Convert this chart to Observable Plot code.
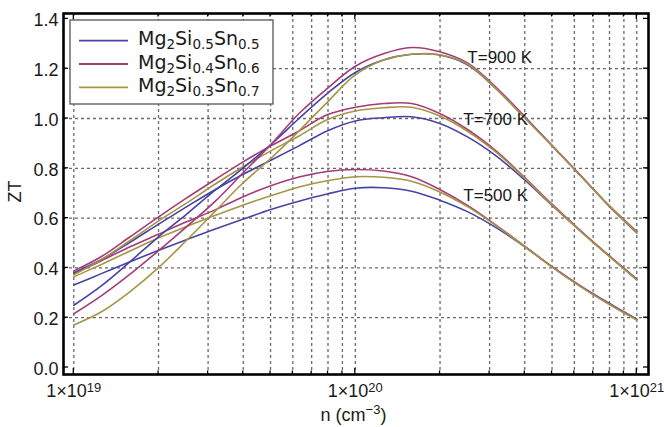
<!DOCTYPE html>
<html><head><meta charset="utf-8">
<script src="https://cdn.jsdelivr.net/npm/d3@7"></script>
<script src="https://cdn.jsdelivr.net/npm/@observablehq/plot@0.6"></script>
<style>body{margin:0;background:#fff}#chart{width:664px;height:427px}</style>
</head><body><div id="chart"></div>
<script>
// ---- data ----
const log10n = [19.0,19.1,19.2,19.3,19.4,19.5,19.6,19.7,19.8,19.9,20.0,20.1,20.2,20.3,20.4,20.5,20.6,20.7,20.8,20.9,21.0];
const siFrac = ["0.5","0.4","0.3"];
const snFrac = ["0.5","0.6","0.7"];
const compKeys = ["Mg2Si0.5Sn0.5","Mg2Si0.4Sn0.6","Mg2Si0.3Sn0.7"];
const compColors = ["#4644a4","#a43c78","#a59645"];
const temps = [500, 700, 900];

const zt500_si05 = [.331,.378,.425,.47,.513,.555,.595,.635,.668,.697,.72,.722,.708,.672,.625,.562,.487,.404,.328,.259,.194];
const zt500_si04 = [.376,.43,.485,.535,.585,.632,.685,.73,.765,.787,.795,.789,.766,.715,.65,.572,.488,.404,.326,.256,.192];
const zt500_si03 = [.364,.415,.468,.52,.566,.61,.652,.69,.725,.75,.766,.764,.748,.705,.645,.57,.487,.402,.325,.255,.191];

const zt700_si05 = [.381,.435,.503,.575,.645,.713,.775,.832,.89,.95,.99,1.003,1.007,.98,.925,.85,.755,.65,.548,.45,.355];
const zt700_si04 = [.388,.447,.525,.604,.68,.753,.825,.89,.95,1.015,1.045,1.06,1.06,1.02,.955,.87,.765,.655,.55,.45,.352];
const zt700_si03 = [.372,.435,.51,.588,.66,.735,.805,.87,.93,.995,1.03,1.043,1.045,1.01,.948,.865,.762,.652,.548,.448,.352];

const zt900_si05 = [.25,.33,.425,.524,.615,.71,.80,.895,1.0,1.10,1.185,1.235,1.258,1.255,1.215,1.12,1.005,.89,.772,.652,.546];
const zt900_si04 = [.216,.29,.375,.468,.565,.665,.78,.895,1.02,1.12,1.21,1.26,1.285,1.268,1.222,1.125,1.01,.89,.77,.65,.54];
const zt900_si03 = [.171,.225,.305,.40,.51,.625,.74,.84,.95,1.065,1.175,1.235,1.258,1.256,1.218,1.12,1.005,.89,.77,.652,.543];

const tempLabels = ["T=900 K","T=700 K","T=500 K"];
const tempLabelN = [2.5e20, 2.42e20, 2.42e20];
const tempLabelZT = [1.245, 0.997, 0.689];

const yTicks = [0,0.2,0.4,0.6,0.8,1.0,1.2,1.4];
const yGrid = [0.2,0.4,0.6,0.8,1.0,1.2];
const xTickExps = [19,20,21];
const xMantissas = [1,2,3,4,5,6,7,8,9];

// ---- build rows ----
const seriesList = [
  {T:500, comp:compKeys[0], v:zt500_si05},{T:500, comp:compKeys[1], v:zt500_si04},{T:500, comp:compKeys[2], v:zt500_si03},
  {T:700, comp:compKeys[0], v:zt700_si05},{T:700, comp:compKeys[1], v:zt700_si04},{T:700, comp:compKeys[2], v:zt700_si03},
  {T:900, comp:compKeys[0], v:zt900_si05},{T:900, comp:compKeys[1], v:zt900_si04},{T:900, comp:compKeys[2], v:zt900_si03}
];
const rows = [];
seriesList.forEach(s => s.v.forEach((zt,i) => rows.push({n: Math.pow(10, log10n[i]), zt, comp: s.comp, key: s.comp + "_" + s.T})));
const xGrid = [];
[19,20].forEach(e => xMantissas.forEach(m => xGrid.push(m * Math.pow(10, e))));
xGrid.push(1e21);
const xTickValues = xTickExps.map(e => Math.pow(10, e));
const labelRows = tempLabels.map((t,i) => ({label: t, n: tempLabelN[i], zt: tempLabelZT[i]}));

const plot = Plot.plot({
  width: 664, height: 427,
  marginLeft: 63, marginRight: 16, marginTop: 13, marginBottom: 53,
  style: {fontFamily: "'Liberation Sans', Arial, sans-serif", background: "#fff", color: "#1a1a1a"},
  x: {type: "log", domain: [Math.pow(10,18.9634), Math.pow(10,21.0416)]},
  y: {domain: [-0.0281, 1.4217]},
  color: {domain: compKeys, range: compColors},
  marks: [
    Plot.ruleX(xGrid, {stroke: "#6a6a6a", strokeWidth: 1.3, strokeDasharray: "3,3"}),
    Plot.ruleY(yGrid, {stroke: "#6a6a6a", strokeWidth: 1.3, strokeDasharray: "3,3"}),
    Plot.line(rows, {x: "n", y: "zt", z: "key", stroke: "comp", strokeWidth: 1.6, curve: "catmull-rom"}),
    Plot.text(labelRows, {x: "n", y: "zt", text: "label", textAnchor: "start", fontSize: 17, fill: "#1a1a1a"}),
    Plot.frame({stroke: "#000", strokeWidth: 2.6}),
    Plot.axisY({ticks: yTicks, tickFormat: d3.format(".1f"), tickSize: 0, tickPadding: 5, dy: 1.5, fontSize: 18, label: null}),
    Plot.axisX({ticks: xTickValues, tickFormat: () => "1×10", tickSize: 0, tickPadding: 10, fontSize: 18, label: null})
  ]
});
document.getElementById("chart").appendChild(plot);

// ---- decorations through the scales ----
const xs = plot.scale("x"), ys = plot.scale("y");
const svg = d3.select(plot);
const [xL, xR] = xs.range; const [yB, yT] = ys.range;
const tg = svg.append("g").attr("stroke", "#000").attr("stroke-width", 1.3);
yTicks.forEach(v => {
  const y = ys.apply(v);
  tg.append("line").attr("x1", xL).attr("x2", xL + 5).attr("y1", y).attr("y2", y);
  tg.append("line").attr("x1", xR).attr("x2", xR - 5).attr("y1", y).attr("y2", y);
});
xGrid.forEach(v => {
  const x = xs.apply(v);
  const len = xTickValues.includes(v) ? 6 : 3.5;
  tg.append("line").attr("x1", x).attr("x2", x).attr("y1", yB).attr("y2", yB - len);
  tg.append("line").attr("x1", x).attr("x2", x).attr("y1", yT).attr("y2", yT + len);
});
// exponents on x tick labels
svg.selectAll('g[aria-label="x-axis tick label"] text').each(function(d, i) {
  d3.select(this).append("tspan").attr("dy", "-0.42em").attr("font-size", "13px").text(xTickExps[i]);
});
// axis titles
const xt = svg.append("text").attr("x", (xL + xR) / 2 - 2).attr("y", 421).attr("text-anchor", "middle")
  .attr("font-family", "'Liberation Sans', Arial, sans-serif").attr("font-size", 18).attr("fill", "#1a1a1a");
xt.append("tspan").text("n (cm");
xt.append("tspan").attr("dy", -7).attr("font-size", 13).text("−3");
xt.append("tspan").attr("dy", 7).text(")");
svg.append("text").attr("transform", `translate(21,${(yB + yT) / 2 - 2})rotate(-90)`).attr("text-anchor", "middle")
  .attr("font-family", "'Liberation Sans', Arial, sans-serif").attr("font-size", 18).attr("fill", "#1a1a1a").text("ZT");
// legend
const lg = svg.append("g");
lg.append("rect").attr("x", 70).attr("y", 20).attr("width", 203).attr("height", 84)
  .attr("fill", "#fff").attr("stroke", "#555").attr("stroke-width", 1.3);
compKeys.forEach((c, i) => {
  const y = 40.7 + i * 23.3;
  lg.append("line").attr("x1", 79).attr("x2", 128).attr("y1", y).attr("y2", y)
    .attr("stroke", compColors[i]).attr("stroke-width", 1.8);
  const t = lg.append("text").attr("x", 138).attr("y", y + 4.5).attr("text-anchor", "start")
    .attr("font-family", "'DejaVu Sans', sans-serif").attr("font-size", 19).attr("fill", "#1a1a1a");
  t.append("tspan").text("Mg");
  t.append("tspan").attr("dy", 4).attr("font-size", 13.5).text("2");
  t.append("tspan").attr("dy", -4).text("Si");
  t.append("tspan").attr("dy", 4).attr("font-size", 13.5).text(siFrac[i]);
  t.append("tspan").attr("dy", -4).text("Sn");
  t.append("tspan").attr("dy", 4).attr("font-size", 13.5).text(snFrac[i]);
});
</script>
</body></html>
